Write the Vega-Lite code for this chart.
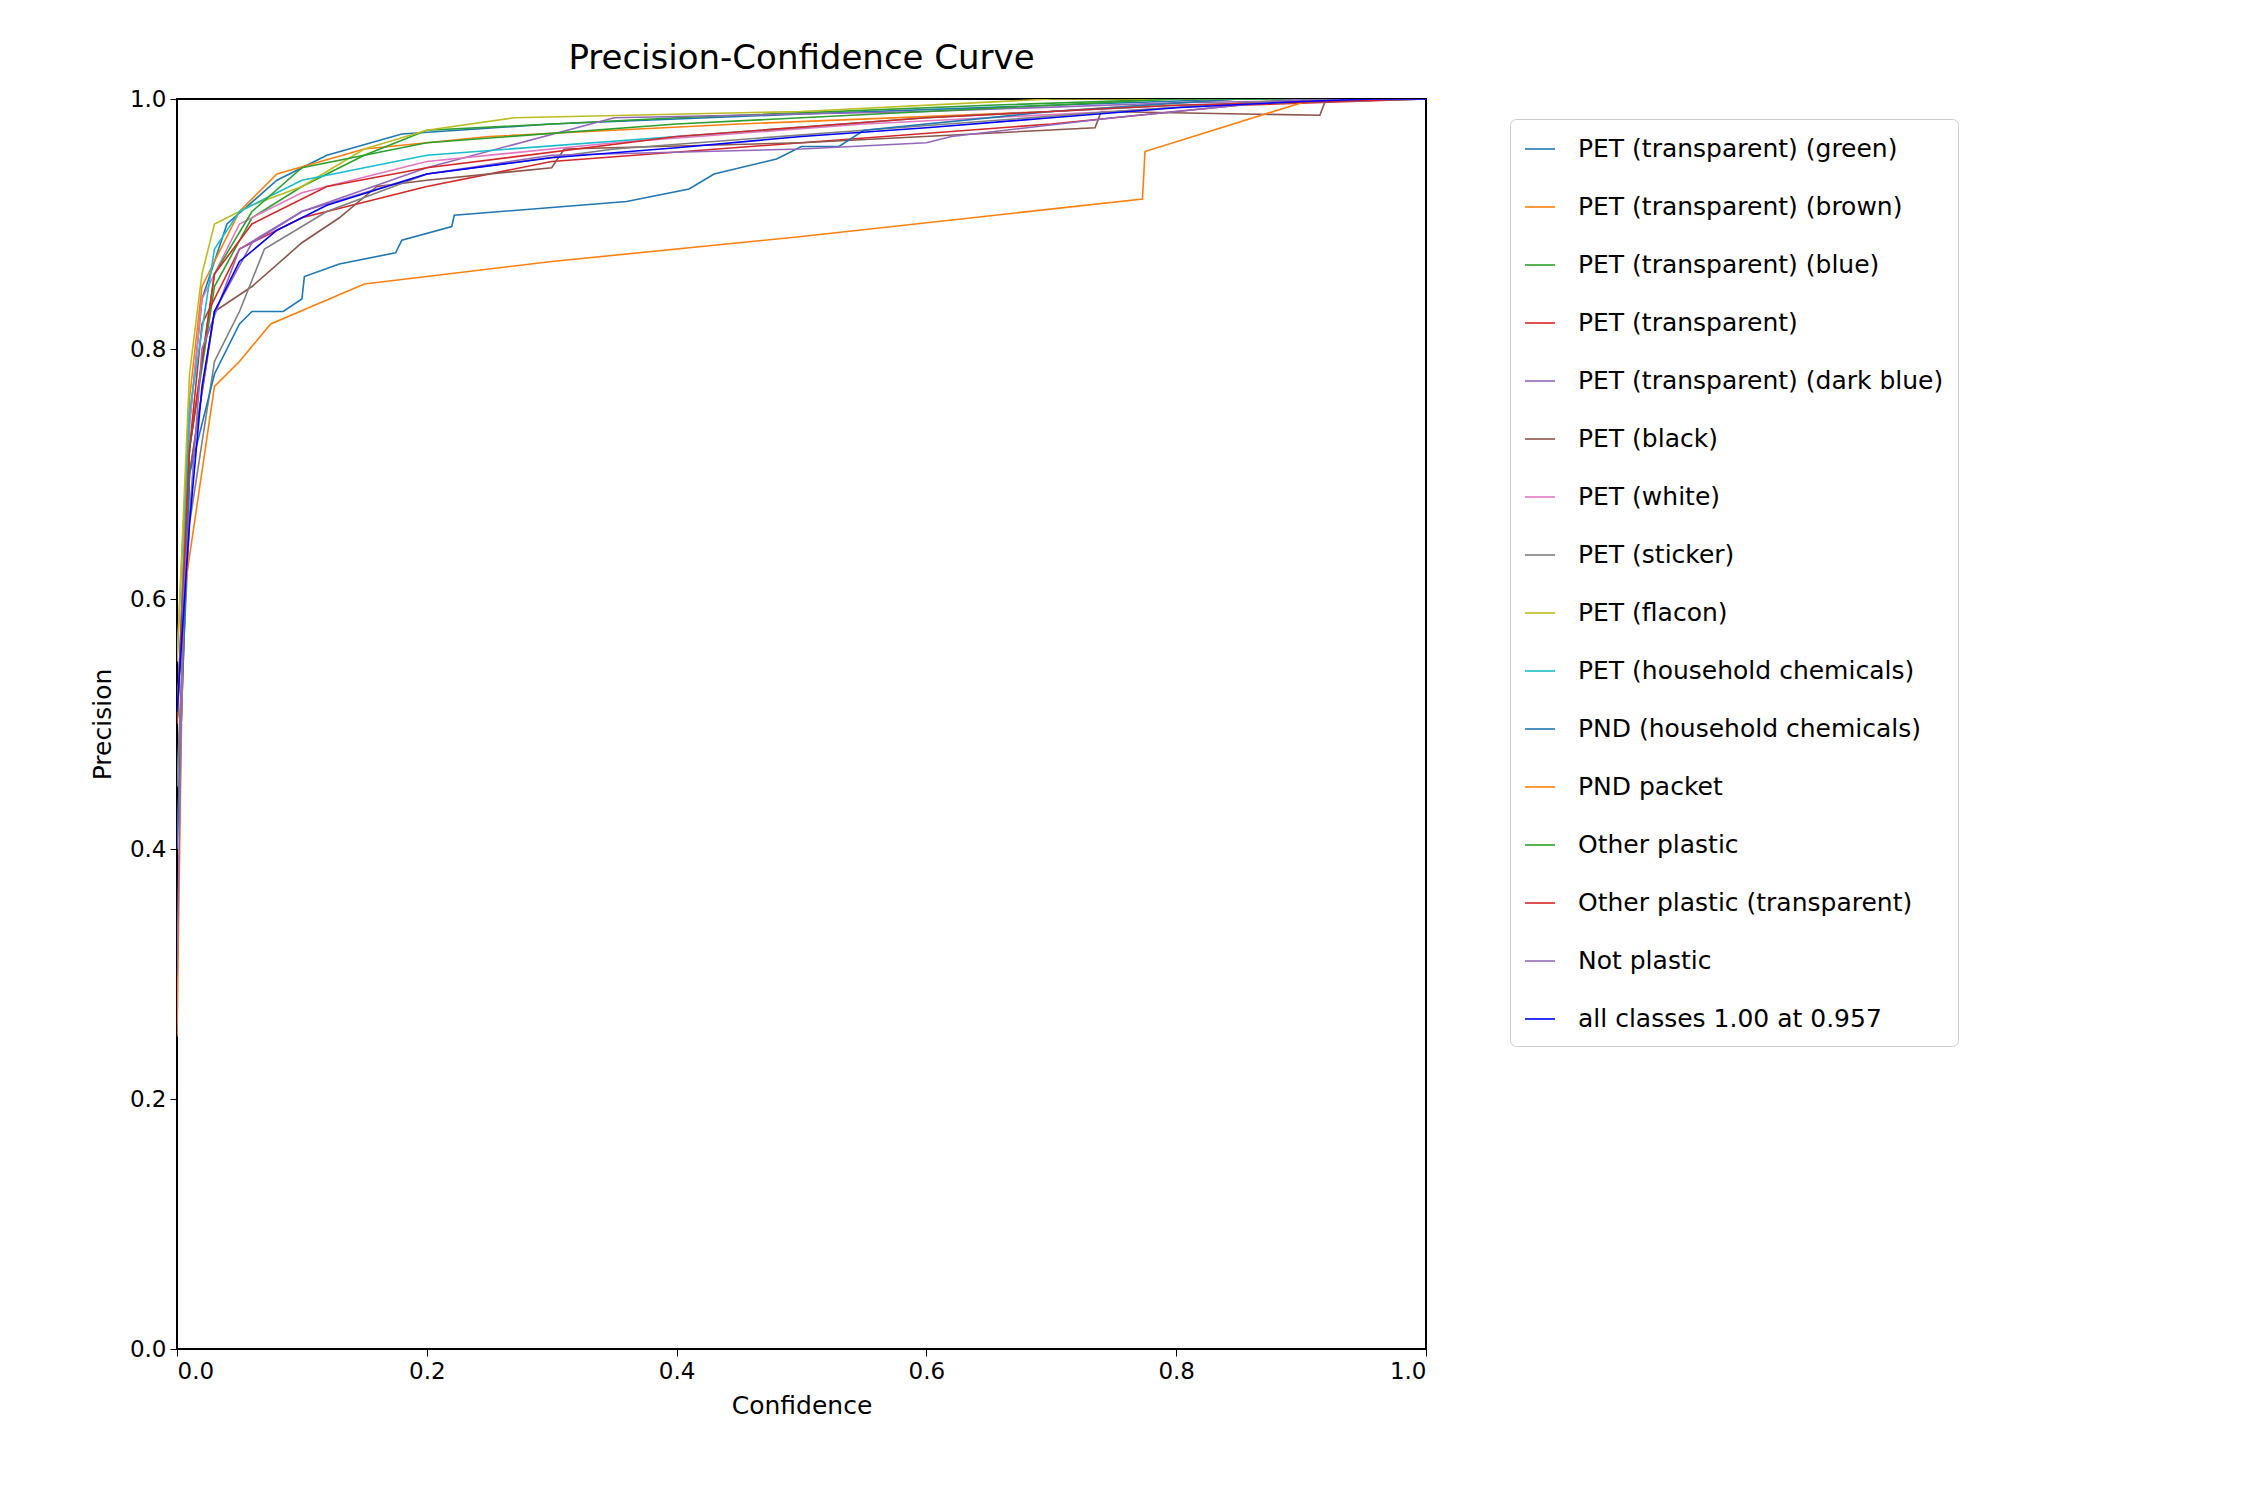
{
  "$schema": "https://vega.github.io/schema/vega-lite/v6.json",
  "autosize": "none",
  "padding": {"left": 177, "top": 99, "right": 824, "bottom": 151},
  "width": 1249,
  "height": 1250,
  "background": "white",
  "title": {"text": "Precision-Confidence Curve", "fontSize": 34, "font": "DejaVu Sans", "fontWeight": "normal", "offset": 12},
  "config": {"view": {"stroke": "black", "strokeWidth": 2}, "font": "DejaVu Sans"},
  "data": {"values": [
    {"s":"PET (transparent) (green)","x":0,"y":0.5},{"s":"PET (transparent) (green)","x":0.01,"y":0.74},{"s":"PET (transparent) (green)","x":0.02,"y":0.84},{"s":"PET (transparent) (green)","x":0.04,"y":0.9},{"s":"PET (transparent) (green)","x":0.08,"y":0.935},{"s":"PET (transparent) (green)","x":0.12,"y":0.955},{"s":"PET (transparent) (green)","x":0.18,"y":0.972},{"s":"PET (transparent) (green)","x":0.3,"y":0.98},{"s":"PET (transparent) (green)","x":0.5,"y":0.988},{"s":"PET (transparent) (green)","x":0.7,"y":0.995},{"s":"PET (transparent) (green)","x":0.85,"y":1},{"s":"PET (transparent) (green)","x":1,"y":1},
    {"s":"PET (transparent) (brown)","x":0,"y":0.55},{"s":"PET (transparent) (brown)","x":0.01,"y":0.76},{"s":"PET (transparent) (brown)","x":0.02,"y":0.85},{"s":"PET (transparent) (brown)","x":0.05,"y":0.91},{"s":"PET (transparent) (brown)","x":0.08,"y":0.94},{"s":"PET (transparent) (brown)","x":0.15,"y":0.96},{"s":"PET (transparent) (brown)","x":0.25,"y":0.97},{"s":"PET (transparent) (brown)","x":0.45,"y":0.98},{"s":"PET (transparent) (brown)","x":0.7,"y":0.99},{"s":"PET (transparent) (brown)","x":0.85,"y":1},{"s":"PET (transparent) (brown)","x":1,"y":1},
    {"s":"PET (transparent) (blue)","x":0,"y":0.5},{"s":"PET (transparent) (blue)","x":0.01,"y":0.72},{"s":"PET (transparent) (blue)","x":0.03,"y":0.85},{"s":"PET (transparent) (blue)","x":0.06,"y":0.905},{"s":"PET (transparent) (blue)","x":0.1,"y":0.93},{"s":"PET (transparent) (blue)","x":0.15,"y":0.955},{"s":"PET (transparent) (blue)","x":0.2,"y":0.975},{"s":"PET (transparent) (blue)","x":0.4,"y":0.985},{"s":"PET (transparent) (blue)","x":0.65,"y":0.995},{"s":"PET (transparent) (blue)","x":0.8,"y":1},{"s":"PET (transparent) (blue)","x":1,"y":1},
    {"s":"PET (transparent)","x":0,"y":0.5},{"s":"PET (transparent)","x":0.01,"y":0.72},{"s":"PET (transparent)","x":0.02,"y":0.82},{"s":"PET (transparent)","x":0.05,"y":0.88},{"s":"PET (transparent)","x":0.1,"y":0.905},{"s":"PET (transparent)","x":0.2,"y":0.93},{"s":"PET (transparent)","x":0.3,"y":0.95},{"s":"PET (transparent)","x":0.5,"y":0.965},{"s":"PET (transparent)","x":0.7,"y":0.98},{"s":"PET (transparent)","x":0.85,"y":0.995},{"s":"PET (transparent)","x":1,"y":1},
    {"s":"PET (transparent) (dark blue)","x":0,"y":0.45},{"s":"PET (transparent) (dark blue)","x":0.01,"y":0.7},{"s":"PET (transparent) (dark blue)","x":0.03,"y":0.83},{"s":"PET (transparent) (dark blue)","x":0.06,"y":0.885},{"s":"PET (transparent) (dark blue)","x":0.1,"y":0.91},{"s":"PET (transparent) (dark blue)","x":0.2,"y":0.945},{"s":"PET (transparent) (dark blue)","x":0.35,"y":0.985},{"s":"PET (transparent) (dark blue)","x":0.6,"y":0.99},{"s":"PET (transparent) (dark blue)","x":0.8,"y":0.997},{"s":"PET (transparent) (dark blue)","x":1,"y":1},
    {"s":"PET (black)","x":0,"y":0.4},{"s":"PET (black)","x":0.01,"y":0.7},{"s":"PET (black)","x":0.03,"y":0.83},{"s":"PET (black)","x":0.06,"y":0.85},{"s":"PET (black)","x":0.1,"y":0.885},{"s":"PET (black)","x":0.13,"y":0.905},{"s":"PET (black)","x":0.16,"y":0.93},{"s":"PET (black)","x":0.2,"y":0.935},{"s":"PET (black)","x":0.3,"y":0.945},{"s":"PET (black)","x":0.31,"y":0.96},{"s":"PET (black)","x":0.5,"y":0.965},{"s":"PET (black)","x":0.735,"y":0.977},{"s":"PET (black)","x":0.74,"y":0.99},{"s":"PET (black)","x":0.915,"y":0.987},{"s":"PET (black)","x":0.92,"y":1},{"s":"PET (black)","x":1,"y":1},
    {"s":"PET (white)","x":0,"y":0.5},{"s":"PET (white)","x":0.01,"y":0.74},{"s":"PET (white)","x":0.02,"y":0.84},{"s":"PET (white)","x":0.05,"y":0.9},{"s":"PET (white)","x":0.1,"y":0.925},{"s":"PET (white)","x":0.2,"y":0.95},{"s":"PET (white)","x":0.35,"y":0.965},{"s":"PET (white)","x":0.55,"y":0.98},{"s":"PET (white)","x":0.75,"y":0.99},{"s":"PET (white)","x":0.9,"y":1},{"s":"PET (white)","x":1,"y":1},
    {"s":"PET (sticker)","x":0,"y":0.45},{"s":"PET (sticker)","x":0.01,"y":0.66},{"s":"PET (sticker)","x":0.03,"y":0.79},{"s":"PET (sticker)","x":0.05,"y":0.83},{"s":"PET (sticker)","x":0.07,"y":0.88},{"s":"PET (sticker)","x":0.12,"y":0.91},{"s":"PET (sticker)","x":0.2,"y":0.94},{"s":"PET (sticker)","x":0.35,"y":0.96},{"s":"PET (sticker)","x":0.55,"y":0.975},{"s":"PET (sticker)","x":0.75,"y":0.99},{"s":"PET (sticker)","x":0.9,"y":1},{"s":"PET (sticker)","x":1,"y":1},
    {"s":"PET (flacon)","x":0,"y":0.55},{"s":"PET (flacon)","x":0.01,"y":0.78},{"s":"PET (flacon)","x":0.02,"y":0.86},{"s":"PET (flacon)","x":0.03,"y":0.9},{"s":"PET (flacon)","x":0.06,"y":0.915},{"s":"PET (flacon)","x":0.1,"y":0.93},{"s":"PET (flacon)","x":0.15,"y":0.96},{"s":"PET (flacon)","x":0.2,"y":0.975},{"s":"PET (flacon)","x":0.27,"y":0.985},{"s":"PET (flacon)","x":0.5,"y":0.99},{"s":"PET (flacon)","x":0.7,"y":1},{"s":"PET (flacon)","x":1,"y":1},
    {"s":"PET (household chemicals)","x":0,"y":0.5},{"s":"PET (household chemicals)","x":0.01,"y":0.75},{"s":"PET (household chemicals)","x":0.03,"y":0.88},{"s":"PET (household chemicals)","x":0.05,"y":0.91},{"s":"PET (household chemicals)","x":0.1,"y":0.935},{"s":"PET (household chemicals)","x":0.2,"y":0.955},{"s":"PET (household chemicals)","x":0.4,"y":0.97},{"s":"PET (household chemicals)","x":0.6,"y":0.985},{"s":"PET (household chemicals)","x":0.8,"y":0.995},{"s":"PET (household chemicals)","x":1,"y":1},
    {"s":"PND (household chemicals)","x":0,"y":0.4},{"s":"PND (household chemicals)","x":0.01,"y":0.7},{"s":"PND (household chemicals)","x":0.03,"y":0.78},{"s":"PND (household chemicals)","x":0.05,"y":0.82},{"s":"PND (household chemicals)","x":0.06,"y":0.83},{"s":"PND (household chemicals)","x":0.085,"y":0.83},{"s":"PND (household chemicals)","x":0.1,"y":0.84},{"s":"PND (household chemicals)","x":0.102,"y":0.858},{"s":"PND (household chemicals)","x":0.13,"y":0.868},{"s":"PND (household chemicals)","x":0.175,"y":0.877},{"s":"PND (household chemicals)","x":0.18,"y":0.887},{"s":"PND (household chemicals)","x":0.22,"y":0.898},{"s":"PND (household chemicals)","x":0.222,"y":0.907},{"s":"PND (household chemicals)","x":0.36,"y":0.918},{"s":"PND (household chemicals)","x":0.41,"y":0.928},{"s":"PND (household chemicals)","x":0.43,"y":0.94},{"s":"PND (household chemicals)","x":0.48,"y":0.952},{"s":"PND (household chemicals)","x":0.5,"y":0.962},{"s":"PND (household chemicals)","x":0.53,"y":0.962},{"s":"PND (household chemicals)","x":0.55,"y":0.975},{"s":"PND (household chemicals)","x":0.7,"y":0.99},{"s":"PND (household chemicals)","x":0.85,"y":1},{"s":"PND (household chemicals)","x":1,"y":1},
    {"s":"PND packet","x":0,"y":0.25},{"s":"PND packet","x":0.005,"y":0.6},{"s":"PND packet","x":0.03,"y":0.77},{"s":"PND packet","x":0.05,"y":0.79},{"s":"PND packet","x":0.075,"y":0.82},{"s":"PND packet","x":0.15,"y":0.852},{"s":"PND packet","x":0.3,"y":0.87},{"s":"PND packet","x":0.5,"y":0.89},{"s":"PND packet","x":0.773,"y":0.92},{"s":"PND packet","x":0.775,"y":0.958},{"s":"PND packet","x":0.91,"y":1},{"s":"PND packet","x":1,"y":1},
    {"s":"Other plastic","x":0,"y":0.5},{"s":"Other plastic","x":0.01,"y":0.72},{"s":"Other plastic","x":0.03,"y":0.86},{"s":"Other plastic","x":0.06,"y":0.91},{"s":"Other plastic","x":0.1,"y":0.945},{"s":"Other plastic","x":0.2,"y":0.965},{"s":"Other plastic","x":0.4,"y":0.98},{"s":"Other plastic","x":0.6,"y":0.99},{"s":"Other plastic","x":0.8,"y":1},{"s":"Other plastic","x":1,"y":1},
    {"s":"Other plastic (transparent)","x":0,"y":0.5},{"s":"Other plastic (transparent)","x":0.01,"y":0.72},{"s":"Other plastic (transparent)","x":0.03,"y":0.86},{"s":"Other plastic (transparent)","x":0.06,"y":0.9},{"s":"Other plastic (transparent)","x":0.12,"y":0.93},{"s":"Other plastic (transparent)","x":0.2,"y":0.945},{"s":"Other plastic (transparent)","x":0.4,"y":0.97},{"s":"Other plastic (transparent)","x":0.6,"y":0.985},{"s":"Other plastic (transparent)","x":0.8,"y":0.995},{"s":"Other plastic (transparent)","x":1,"y":1},
    {"s":"Not plastic","x":0,"y":0.3},{"s":"Not plastic","x":0.005,"y":0.6},{"s":"Not plastic","x":0.02,"y":0.8},{"s":"Not plastic","x":0.05,"y":0.88},{"s":"Not plastic","x":0.1,"y":0.91},{"s":"Not plastic","x":0.2,"y":0.94},{"s":"Not plastic","x":0.3,"y":0.955},{"s":"Not plastic","x":0.5,"y":0.96},{"s":"Not plastic","x":0.6,"y":0.965},{"s":"Not plastic","x":0.62,"y":0.97},{"s":"Not plastic","x":0.75,"y":0.985},{"s":"Not plastic","x":0.9,"y":1},{"s":"Not plastic","x":1,"y":1},
    {"s":"all classes 1.00 at 0.957","x":0,"y":0.51},{"s":"all classes 1.00 at 0.957","x":0.01,"y":0.66},{"s":"all classes 1.00 at 0.957","x":0.02,"y":0.77},{"s":"all classes 1.00 at 0.957","x":0.03,"y":0.83},{"s":"all classes 1.00 at 0.957","x":0.05,"y":0.87},{"s":"all classes 1.00 at 0.957","x":0.08,"y":0.895},{"s":"all classes 1.00 at 0.957","x":0.12,"y":0.915},{"s":"all classes 1.00 at 0.957","x":0.2,"y":0.94},{"s":"all classes 1.00 at 0.957","x":0.3,"y":0.953},{"s":"all classes 1.00 at 0.957","x":0.4,"y":0.961},{"s":"all classes 1.00 at 0.957","x":0.5,"y":0.97},{"s":"all classes 1.00 at 0.957","x":0.6,"y":0.977},{"s":"all classes 1.00 at 0.957","x":0.7,"y":0.985},{"s":"all classes 1.00 at 0.957","x":0.8,"y":0.993},{"s":"all classes 1.00 at 0.957","x":0.9,"y":0.998},{"s":"all classes 1.00 at 0.957","x":0.957,"y":1},{"s":"all classes 1.00 at 0.957","x":1,"y":1}
  ]},
  "mark": {"type": "line", "clip": true},
  "encoding": {
    "x": {"field": "x", "type": "quantitative", "title": "Confidence", "scale": {"domain": [0, 1], "nice": false},
      "axis": {"grid": false, "values": [0, 0.2, 0.4, 0.6, 0.8, 1], "format": ".1f", "labelFontSize": 23, "titleFontSize": 25, "titleFontWeight": "normal", "labelColor": "black", "titleColor": "black", "domainColor": "black", "tickColor": "black", "tickSize": 7, "labelPadding": 4, "titlePadding": 10}},
    "y": {"field": "y", "type": "quantitative", "title": "Precision", "scale": {"domain": [0, 1], "nice": false},
      "axis": {"grid": false, "values": [0, 0.2, 0.4, 0.6, 0.8, 1], "format": ".1f", "labelFontSize": 23, "titleFontSize": 25, "titleFontWeight": "normal", "labelColor": "black", "titleColor": "black", "domainColor": "black", "tickColor": "black", "tickSize": 7, "labelPadding": 4, "titlePadding": 14}},
    "order": {"field": "x", "type": "quantitative"},
    "color": {"field": "s", "type": "nominal",
      "scale": {
        "domain": ["PET (transparent) (green)","PET (transparent) (brown)","PET (transparent) (blue)","PET (transparent)","PET (transparent) (dark blue)","PET (black)","PET (white)","PET (sticker)","PET (flacon)","PET (household chemicals)","PND (household chemicals)","PND packet","Other plastic","Other plastic (transparent)","Not plastic","all classes 1.00 at 0.957"],
        "range": ["#1f77b4","#ff7f0e","#2ca02c","#d62728","#9467bd","#8c564b","#e377c2","#7f7f7f","#bcbd22","#17becf","#1f77b4","#ff7f0e","#2ca02c","#d62728","#9467bd","#0000ff"]},
      "legend": {"title": null, "orient": "none", "legendX": 1333, "legendY": 20, "symbolType": "stroke", "symbolSize": 900, "labelFontSize": 25, "labelColor": "black", "rowPadding": 29, "padding": 14, "strokeColor": "#cccccc", "fillColor": "white", "cornerRadius": 6, "labelOffset": 22, "labelLimit": 700}},
    "strokeWidth": {"field": "s", "type": "nominal",
      "scale": {
        "domain": ["PET (transparent) (green)","PET (transparent) (brown)","PET (transparent) (blue)","PET (transparent)","PET (transparent) (dark blue)","PET (black)","PET (white)","PET (sticker)","PET (flacon)","PET (household chemicals)","PND (household chemicals)","PND packet","Other plastic","Other plastic (transparent)","Not plastic","all classes 1.00 at 0.957"],
        "range": [1.6,1.6,1.6,1.6,1.6,1.6,1.6,1.6,1.6,1.6,1.6,1.6,1.6,1.6,1.6,7]},
      "legend": null}
  }
}
